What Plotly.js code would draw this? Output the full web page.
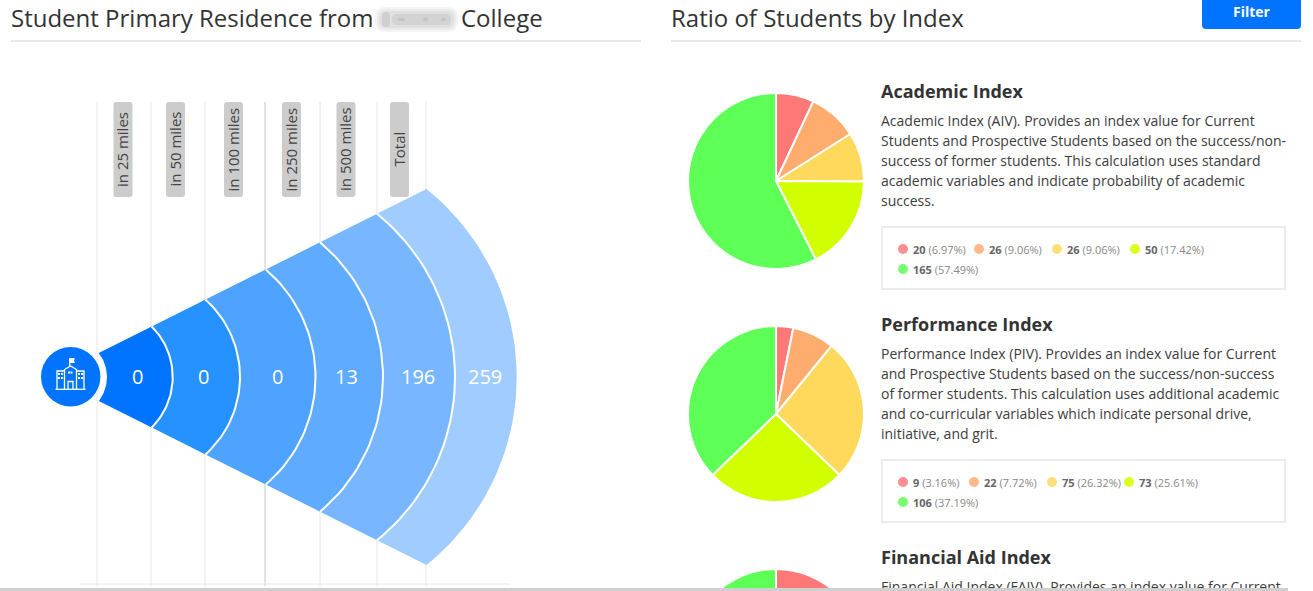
<!DOCTYPE html>
<html>
<head>
<meta charset="utf-8">
<script src="https://cdn.plot.ly/plotly-3.0.1.min.js"></script>
<style>
html,body{margin:0;padding:0;width:1313px;height:591px;overflow:hidden;background:#fff}
#chart{position:absolute;left:0;top:0;width:1313px;height:760px}
#strip{position:absolute;left:0;top:588px;width:1288px;height:3px;background:#cfcfcf}
</style>
</head>
<body>
<div id="chart"></div>
<div id="strip"></div>
<script>
// ---------- data ----------
const distanceLabels = ["in 25 miles","in 50 miles","in 100 miles","in 250 miles","in 500 miles","Total"];
const studentCounts = [0,0,0,13,196,259];
const indexNames = ["Academic Index","Performance Index","Financial Aid Index"];
const academicCounts = [20,26,26,50,165];
const academicShares = ["6.97%","9.06%","9.06%","17.42%","57.49%"];
const performanceCounts = [9,22,75,73,106];
const performanceShares = ["3.16%","7.72%","26.32%","25.61%","37.19%"];
// the lower part of this pie is cut off by the window; estimated from the visible top
const financialCounts = [36,30,60,70,90];
const academicText = [
 "Academic Index (AIV). Provides an index value for Current",
 "Students and Prospective Students based on the success/non-",
 "success of former students. This calculation uses standard",
 "academic variables and indicate probability of academic",
 "success."];
const performanceText = [
 "Performance Index (PIV). Provides an index value for Current",
 "and Prospective Students based on the success/non-success",
 "of former students. This calculation uses additional academic",
 "and co-curricular variables which indicate personal drive,",
 "initiative, and grit."];
const financialText = ["Financial Aid Index (FAIV). Provides an index value for Current"];

// ---------- styling and layout ----------
const W = 1313, H = 760;
const pieColors = ["#ff7878","#ffad6e","#ffd95c","#d2ff00","#5eff57"];
const dotColors = ["#ff8f8f","#ffb98b","#ffdf7c","#dcff22","#78ff70"];
const bandColors = ["#0074ff","#2692ff","#4da3ff","#5fabff","#78b7ff","#a1ccff"];
const cy = 377;
const edgeX = [98.7,151.7,205.5,265.7,320,377,426.5];      // corner x of each band edge
const edgeMid = [107,172.7,240,315.5,383,455,516.7];       // x where each edge crosses the axis
const valueX = [137.5,203.5,277.5,346.5,417.5,484.5];
const gridX = [97,151,205,265,320,377,426];
const pillX = [123,175.5,233.5,291.5,346,399.5];
const TEXT = "#333", FONT = "'Open Sans', sans-serif";
const LEFT_PAD = 2;   // annotations keep a small box padding to the left of their text

const halfHeight = x => 24 + 0.5*(x - 98.7);
function edgePoints(i){
  const x0 = edgeX[i], m = edgeMid[i], h = halfHeight(x0), s = m - x0;
  const R = (h*h + s*s)/(2*s), c = m - R, a = Math.atan2(h, x0 - c);
  const xs = [], ys = [];
  for(let k=0;k<=48;k++){ const t = -a + 2*a*k/48; xs.push(c + R*Math.cos(t)); ys.push(cy + R*Math.sin(t)); }
  return {xs, ys};
}
const rrect = (x0,y0,x1,y1,r) =>
 `M${x0+r},${y0}L${x1-r},${y0}Q${x1},${y0} ${x1},${y0+r}L${x1},${y1-r}Q${x1},${y1} ${x1-r},${y1}L${x0+r},${y1}Q${x0},${y1} ${x0},${y1-r}L${x0},${y0+r}Q${x0},${y0} ${x0+r},${y0}Z`;

const traces = [];
// fan bands
studentCounts.forEach((v,i)=>{
  const a = edgePoints(i), b = edgePoints(i+1);
  traces.push({type:"scatter",mode:"lines",x:a.xs.concat(b.xs.slice().reverse(),[a.xs[0]]),
    y:a.ys.concat(b.ys.slice().reverse(),[a.ys[0]]),fill:"toself",fillcolor:bandColors[i],
    line:{width:0},hoverinfo:"skip",showlegend:false});
});
// white separators between the bands
for(let i=1;i<=5;i++){
  const e = edgePoints(i);
  traces.push({type:"scatter",mode:"lines",x:e.xs,y:e.ys,line:{color:"#fff",width:2},hoverinfo:"skip",showlegend:false});
}
// pies
function pie(vals,name,pcx,pcy){
  const r = 88;
  return {type:"pie",values:vals,name,sort:false,direction:"clockwise",rotation:0,textinfo:"none",
    marker:{colors:pieColors,line:{color:"#fff",width:2}},showlegend:false,hoverinfo:"value+percent",
    domain:{x:[(pcx-r)/W,(pcx+r)/W],y:[1-(pcy+r)/H,1-(pcy-r)/H]}};
}
traces.push(pie(academicCounts,indexNames[0],776,181));
traces.push(pie(performanceCounts,indexNames[1],776,414));
traces.push(pie(financialCounts,indexNames[2],776,657));

const annotations = [];
const note = (x,y,text,size,color,opt={}) => annotations.push(Object.assign(
  {x:x-LEFT_PAD,y,text,xref:"x",yref:"y",showarrow:false,xanchor:"left",yanchor:"middle",
   font:{family:FONT,size,color}},opt));
const centred = (x,y,text,size,color,opt={}) => note(x+LEFT_PAD,y,text,size,color,Object.assign({xanchor:"center"},opt));

note(11,17,"Student Primary Residence from",24,TEXT);
note(461,17,"College",24,TEXT);
note(671,17,"Ratio of Students by Index",24,TEXT);
centred(1251.5,11,"<b>Filter</b>",14,"#fff");

studentCounts.forEach((v,i)=>centred(valueX[i],376,String(v),20,"#fff"));
distanceLabels.forEach((t,i)=>centred(pillX[i]-1.5,149.5,t,15,"#444",{textangle:-90}));

function block(title,titleY,lines,lineY){
  note(881,titleY,"<b>"+title+"</b>",18,TEXT);
  lines.forEach((l,i)=>note(881,lineY+i*20,l,14,"#3c3c3c"));
}
block(indexNames[0],91,academicText,120);
block(indexNames[1],324,performanceText,353);
block(indexNames[2],557,financialText,586);

// legend rows
const dotX=[], dotY=[], dotC=[];
function legend(counts,shares,xs,y0){
  counts.forEach((c,i)=>{
    const row = i<4 ? 0 : 1, x = i<4 ? xs[i] : xs[0], y = y0 + row*20;
    dotX.push(x); dotY.push(y); dotC.push(dotColors[i]);
    note(x+10,y,`<b>${c}</b> <span style="color:#888">(${shares[i]})</span>`,11,"#666");
  });
}
legend(academicCounts,academicShares,[903,979,1057,1135],249);
legend(performanceCounts,performanceShares,[903,974,1052,1129],482);
traces.push({type:"scatter",mode:"markers",x:dotX,y:dotY,marker:{size:10,color:dotC,line:{width:0}},hoverinfo:"skip",showlegend:false});

// ---------- decorations ----------
const shapes = [];
const line = (x0,y0,x1,y1,color,width=1,layer="below") => shapes.push({type:"line",xref:"x",yref:"y",x0,y0,x1,y1,layer,line:{color,width}});
const path = (p,fill,lineColor,width=0,layer="above") => shapes.push({type:"path",xref:"x",yref:"y",path:p,fillcolor:fill,layer,line:{color:lineColor||fill,width}});

line(11,41,641,41,"#cfcfcf");
line(671,41,1301,41,"#cfcfcf");
gridX.forEach((x,i)=>line(x,102,x,586,i===3?"#c8c8c8":"#e6e6e6"));
line(80,584,510,584,"#e8e8e8");
pillX.forEach(x=>path(rrect(x-9.5,102,x+9.5,197,3),"#cccccc",null,0,"below"));

// blurred name
path(rrect(375,7,458,32,10),"#f4f4f4",null,0,"below");
path(rrect(377,9,456,30,9),"#ebebeb",null,0,"below");
path(rrect(379,11,454,28,8),"#e0e0e0",null,0,"below");
path(rrect(382,12,390,27,4),"#cfcfcf",null,0,"below");
path(rrect(392,14,451,25,5),"#d3d3d3",null,0,"below");
path(rrect(398,18,405,21,1.5),"#c2c2c2",null,0,"below");
path(rrect(423,17,428,21,1.5),"#c6c6c6",null,0,"below");
path(rrect(441,18,446,21,1.5),"#c2c2c2",null,0,"below");

// filter button
path("M1202,-2L1301,-2L1301,25Q1301,29 1297,29L1206,29Q1202,29 1202,25Z","#0074ff");

// legend boxes
[[227,289],[460,522]].forEach(([a,b])=>path(`M882,${a}L1285,${a}L1285,${b}L882,${b}Z`,"rgba(0,0,0,0)","#ececec",2,"below"));

// school badge
shapes.push({type:"circle",xref:"x",yref:"y",x0:41,y0:347,x1:100.4,y1:406.4,fillcolor:"#0074ff",line:{width:0},layer:"above"});
const ic = (p,fill="rgba(0,0,0,0)") => path(p,fill,"#fff",1.3);
ic("M64.5,389L64.5,369.5L70.5,366L76.5,369.5L76.5,389");
ic("M57,389L57,371L64.5,371");
ic("M84,389L84,371L76.5,371");
ic("M55.5,389.3L85.5,389.3");
ic("M68,389L68,381.5L73,381.5L73,389");
ic("M69.7,366L69.7,358");
path("M70,358L75,358L74,360.5L75,363L70,363Z","#fff","#fff",0);
[[59,374],[62,374],[59,378],[62,378],[79,374],[82,374],[79,378],[82,378],[69,372.5],[71.5,372.5]].forEach(([x,y])=>
  path(`M${x-1},${y-1}L${x+1},${y-1}L${x+1},${y+1}L${x-1},${y+1}Z`,"#fff","#fff",0));

Plotly.newPlot("chart",traces,{
  width:W,height:H,margin:{l:0,r:0,t:0,b:0,pad:0},
  paper_bgcolor:"#fff",plot_bgcolor:"rgba(0,0,0,0)",
  xaxis:{range:[0,W],visible:false,fixedrange:true},
  yaxis:{range:[H,0],visible:false,fixedrange:true},
  shapes,annotations,showlegend:false,font:{family:FONT}
},{displayModeBar:false,staticPlot:true});
</script>
</body>
</html>
